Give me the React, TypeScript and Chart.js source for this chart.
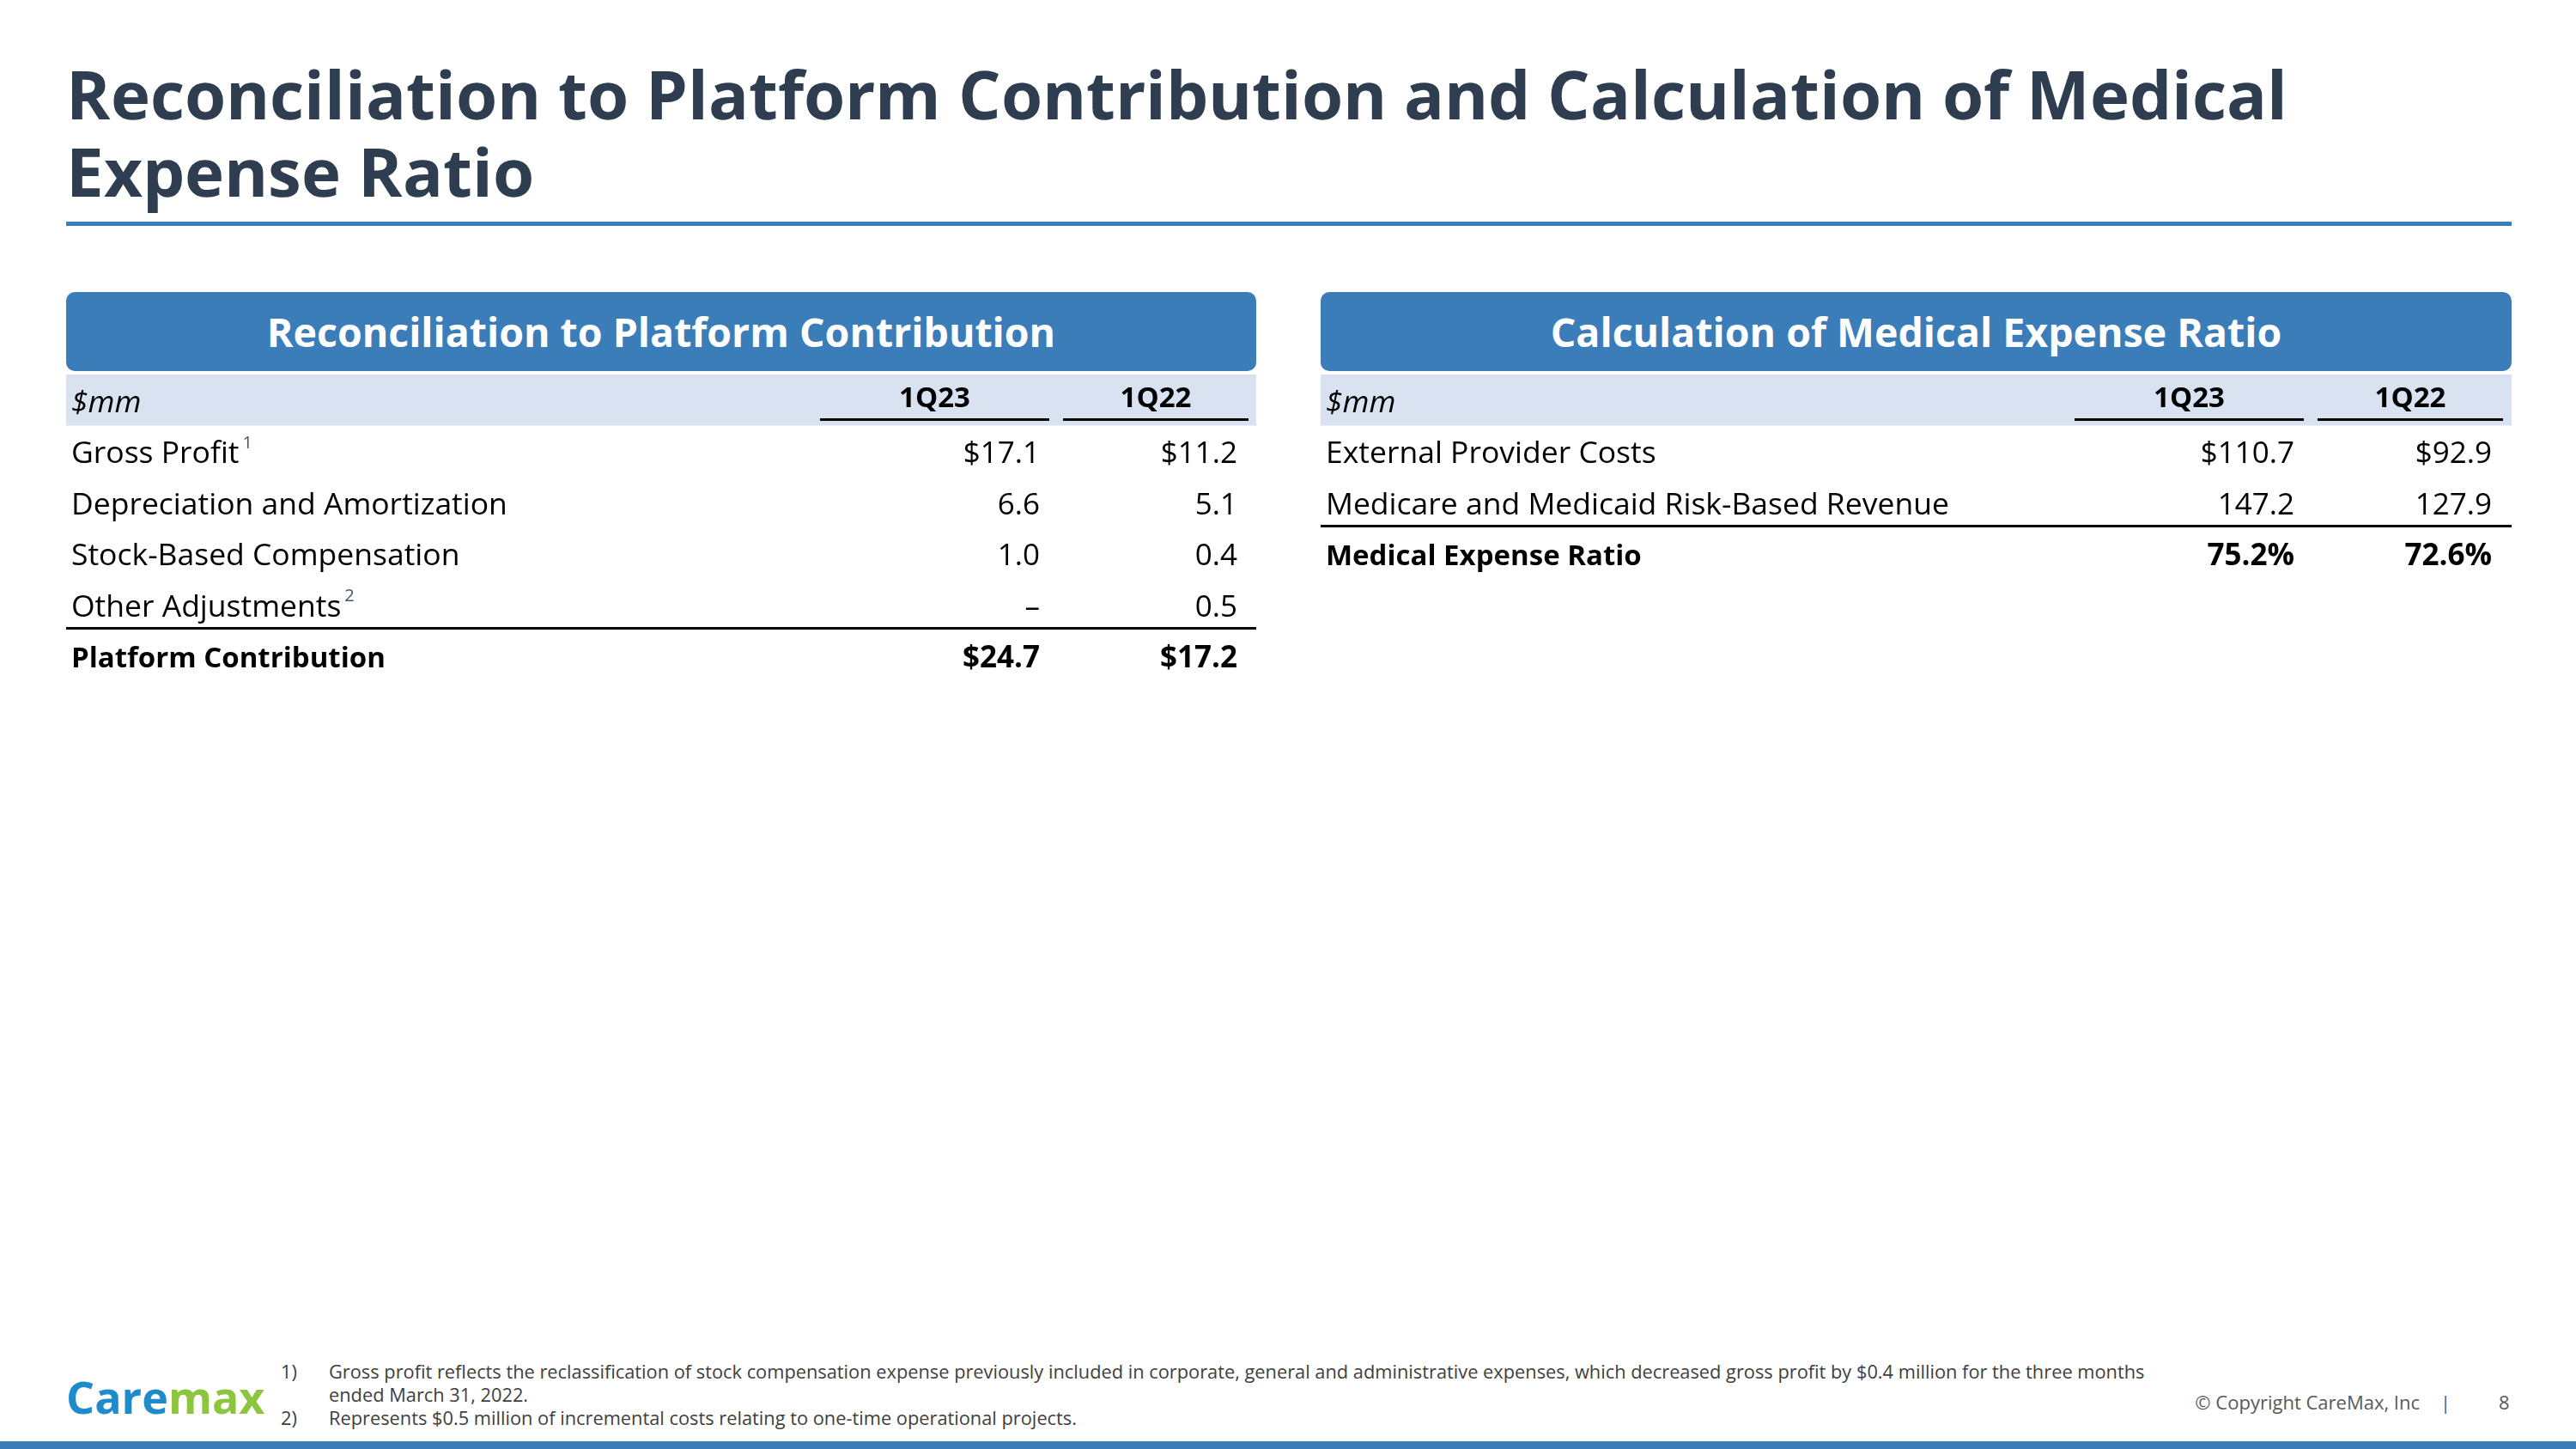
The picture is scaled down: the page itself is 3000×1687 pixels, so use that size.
import React, { useEffect, useRef } from 'react';
import { Chart, registerables } from 'chart.js';

Chart.register(...registerables);

const FONT = '"Open Sans", Lato, sans-serif';
const TITLE_FONT = '"TitleSans", "Open Sans", Lato, sans-serif';
const TITLE_COLOR = '#2e3d50';
const BLUE = '#3b7db9';
const BAND = '#d9e2f0';

// ---- data ----
const periods = ['1Q23', '1Q22'];

const reconLabels = ['$mm', 'Gross Profit', 'Depreciation and Amortization', 'Stock-Based Compensation', 'Other Adjustments', 'Platform Contribution'];
const reconNotes = ['', '1', '', '', '2', ''];
const recon1Q23 = [null, 17.1, 6.6, 1.0, 0, 24.7];
const recon1Q22 = [null, 11.2, 5.1, 0.4, 0.5, 17.2];
const reconPrefix = ['', '$', '', '', '', '$'];
const reconSuffix = ['', '', '', '', '', ''];

const merLabels = ['$mm', 'External Provider Costs', 'Medicare and Medicaid Risk-Based Revenue', 'Medical Expense Ratio'];
const merNotes = ['', '', '', ''];
const mer1Q23 = [null, 110.7, 147.2, 75.2];
const mer1Q22 = [null, 92.9, 127.9, 72.6];
const merPrefix = ['', '$', '', ''];
const merSuffix = ['', '', '', '%'];

const footnotes = [
  ['1)', 'Gross profit reflects the reclassification of stock compensation expense previously included in corporate, general and administrative expenses, which decreased gross profit by $0.4 million for the three months'],
  ['', 'ended March 31, 2022.'],
  ['2)', 'Represents $0.5 million of incremental costs relating to one-time operational projects.'],
];

const BODY_SIZE = 35.5;
const BOLD_LABEL_SIZE = 33;
const VALUE_SIZE = 35;
const HEAD_SIZE = 33;
const TEXT_SHIFT = 4;

const tablePlugin = {
  id: 'tablePlugin',
  beforeDraw(chart: any) {
    const ctx = chart.ctx;
    const y = chart.scales.y;
    const p0 = y.getPixelForValue(0);
    const band = y.getPixelForValue(1) - p0;
    ctx.save();
    ctx.fillStyle = BAND;
    ctx.fillRect(0, p0 - band / 2, chart.width, band);
    ctx.restore();
  },
  afterDraw(chart: any) {
    const o = chart.options.plugins.tablePlugin;
    const ctx = chart.ctx;
    const y = chart.scales.y;
    const p0 = y.getPixelForValue(0);
    const band = y.getPixelForValue(1) - p0;
    ctx.save();
    // column headers
    ctx.fillStyle = '#000';
    ctx.textBaseline = 'middle';
    ctx.textAlign = 'center';
    ctx.font = `bold ${HEAD_SIZE}px ${FONT}`;
    o.periods.forEach((p: string, j: number) => {
      const cx = (o.ulStart[j] + o.ulEnd[j]) / 2;
      ctx.fillText(p, cx, p0 - 1);
      ctx.fillRect(o.ulStart[j], p0 - band / 2 + 51, o.ulEnd[j] - o.ulStart[j], 3);
    });
    // values
    ctx.textAlign = 'right';
    chart.data.datasets.forEach((ds: any, j: number) => {
      ds.data.forEach((v: number | null, i: number) => {
        if (v === null || v === undefined) return;
        const bold = i === o.total;
        ctx.font = `${bold ? 'bold ' : ''}${VALUE_SIZE}px ${FONT}`;
        const txt = v === 0 ? '–' : o.prefix[i] + v.toFixed(1) + o.suffix[i];
        ctx.fillText(txt, o.valueRight[j], y.getPixelForValue(i) + TEXT_SHIFT);
      });
    });
    // separator line above total
    const yb = (y.getPixelForValue(o.total - 1) + y.getPixelForValue(o.total)) / 2 + o.sepShift;
    ctx.fillStyle = '#000';
    ctx.fillRect(0, yb - 1.5, chart.width, 3);
    // superscript notes
    o.notes.forEach((n: string, i: number) => {
      if (!n) return;
      ctx.font = `${BODY_SIZE}px ${FONT}`;
      const w = ctx.measureText(chart.data.labels[i]).width;
      ctx.font = `20px ${FONT}`;
      ctx.fillStyle = '#44546a';
      ctx.textAlign = 'left';
      ctx.fillText(n, y.left + w + 4, y.getPixelForValue(i) + TEXT_SHIFT - 13);
    });
    ctx.restore();
  },
};

type TableProps = {
  labels: string[];
  notes: string[];
  series: (number | null)[][];
  prefix: string[];
  suffix: string[];
  width: number;
  rowH: number;
  sepShift: number;
};

function TableChart(props: TableProps) {
  const ref = useRef<HTMLCanvasElement | null>(null);
  const height = Math.round(props.labels.length * props.rowH);
  useEffect(() => {
    if (!ref.current) return;
    const total = props.labels.length - 1;
    const chart = new Chart(ref.current, {
      type: 'bar',
      data: {
        labels: props.labels,
        datasets: props.series.map((s, j) => ({
          label: periods[j],
          data: s as any,
          backgroundColor: 'rgba(0,0,0,0)',
          borderWidth: 0,
        })),
      },
      options: {
        indexAxis: 'y',
        responsive: false,
        animation: false,
        events: [],
        layout: { padding: { left: 6, right: 0, top: 0, bottom: 0 } },
        scales: {
          x: { display: false, min: 0, max: 200 },
          y: {
            type: 'category',
            position: 'left',
            offset: true,
            grid: { display: false },
            border: { display: false },
            afterFit: (scale: any) => {
              scale.paddingTop = 0;
              scale.paddingBottom = 0;
              scale.width = 900;
            },
            ticks: {
              autoSkip: false,
              crossAlign: 'far',
              padding: 0,
              labelOffset: TEXT_SHIFT,
              color: '#000',
              font: (c: any) => ({
                family: FONT,
                size: c.index === total ? BOLD_LABEL_SIZE : BODY_SIZE,
                weight: c.index === total ? 'bold' : 'normal',
                style: c.index === 0 ? 'italic' : 'normal',
              }),
            },
          },
        },
        plugins: {
          legend: { display: false },
          tooltip: { enabled: false },
          tablePlugin: {
            periods,
            total,
            notes: props.notes,
            prefix: props.prefix,
            suffix: props.suffix,
            ulStart: [878, 1161],
            ulEnd: [1145, 1377],
            valueRight: [1134, 1364],
            sepShift: props.sepShift,
          },
        } as any,
      },
      plugins: [tablePlugin],
    });
    return () => chart.destroy();
  }, []);
  return (
    <canvas
      ref={ref}
      width={props.width}
      height={height}
      style={{ width: props.width, height, display: 'block' }}
    />
  );
}

function Panel(props: { left: number; title: string; table: TableProps }) {
  return (
    <div style={{ position: 'absolute', left: props.left, top: 340, width: props.table.width }}>
      <div
        style={{
          height: 92,
          background: BLUE,
          borderRadius: 10,
          color: '#fff',
          fontFamily: FONT,
          fontWeight: 700,
          fontSize: 46.5,
          display: 'flex',
          alignItems: 'center',
          justifyContent: 'center',
          marginBottom: 4,
        }}
      >
        {props.title}
      </div>
      <TableChart {...props.table} />
    </div>
  );
}

const titleLine = {
  position: 'absolute' as const,
  left: 77,
  fontFamily: TITLE_FONT,
  fontWeight: 700,
  fontSize: 78,
  lineHeight: '78px',
  color: TITLE_COLOR,
  whiteSpace: 'nowrap' as const,
};

const fontFaceCss = `
@font-face {
  font-family: "TitleSans";
  src: local("Open Sans Bold"), local("OpenSans-Bold"), local("Open Sans");
  font-weight: 700;
  ascent-override: 90%;
  descent-override: 24%;
  line-gap-override: 0%;
}
`;

export default function App() {
  useEffect(() => {
    document.body.style.margin = '0';
  }, []);
  return (
    <div style={{ position: 'absolute', left: 0, top: 0, width: 3000, height: 1687, background: '#fff', overflow: 'hidden' }}>
      <style>{fontFaceCss}</style>
      <div style={{ ...titleLine, top: 75 }}>Reconciliation to Platform Contribution and Calculation of Medical</div>
      <div style={{ ...titleLine, top: 165 }}>Expense Ratio</div>
      <div style={{ position: 'absolute', left: 77, top: 258, width: 2848, height: 5, background: BLUE }} />

      <Panel
        left={77}
        title="Reconciliation to Platform Contribution"
        table={{
          labels: reconLabels,
          notes: reconNotes,
          series: [recon1Q23, recon1Q22],
          prefix: reconPrefix,
          suffix: reconSuffix,
          width: 1386,
          rowH: 59.5,
          sepShift: -2,
        }}
      />
      <Panel
        left={1538}
        title="Calculation of Medical Expense Ratio"
        table={{
          labels: merLabels,
          notes: merNotes,
          series: [mer1Q23, mer1Q22],
          prefix: merPrefix,
          suffix: merSuffix,
          width: 1387,
          rowH: 59.5,
          sepShift: -2,
        }}
      />

      {/* footer */}
      <div
        style={{
          position: 'absolute',
          left: 77,
          top: 1598,
          fontFamily: FONT,
          fontWeight: 700,
          fontSize: 52,
          lineHeight: '56px',
          whiteSpace: 'nowrap',
        }}
      >
        <span style={{ color: '#1f8bcb' }}>Care</span>
        <span style={{ color: '#8cc63f' }}>max</span>
      </div>
      <div style={{ position: 'absolute', left: 327, top: 1583, fontFamily: FONT, fontSize: 21.8, lineHeight: '27px', color: '#404040' }}>
        {footnotes.map((f, i) => (
          <div key={i} style={{ display: 'flex', whiteSpace: 'nowrap' }}>
            <span style={{ width: 56, display: 'inline-block' }}>{f[0]}</span>
            <span>{f[1]}</span>
          </div>
        ))}
      </div>
      <div style={{ position: 'absolute', right: 3000 - 2818, top: 1621, fontFamily: FONT, fontSize: 22, lineHeight: '22px', color: '#595959', whiteSpace: 'nowrap' }}>
        © Copyright CareMax, Inc
      </div>
      <div style={{ position: 'absolute', left: 2842, top: 1621, fontFamily: FONT, fontSize: 22, lineHeight: '22px', color: '#595959' }}>|</div>
      <div style={{ position: 'absolute', left: 2910, top: 1621, fontFamily: FONT, fontSize: 22, lineHeight: '22px', color: '#595959' }}>8</div>
      <div style={{ position: 'absolute', left: 0, top: 1678, width: 3000, height: 9, background: BLUE }} />
    </div>
  );
}
